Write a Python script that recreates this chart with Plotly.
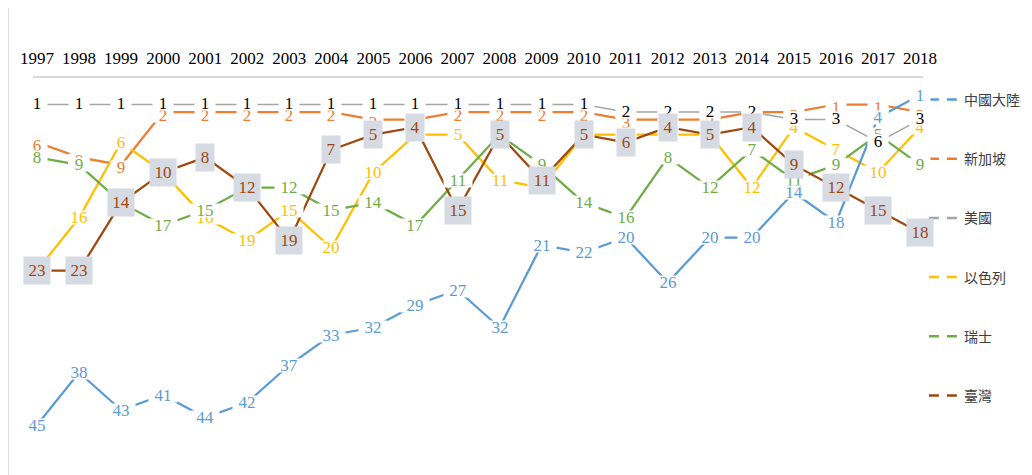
import plotly.graph_objects as go

years = [1997, 1998, 1999, 2000, 2001, 2002, 2003, 2004, 2005, 2006, 2007,
         2008, 2009, 2010, 2011, 2012, 2013, 2014, 2015, 2016, 2017, 2018]

china = [45, 38, 43, 41, 44, 42, 37, 33, 32, 29, 27, 32, 21, 22, 20, 26, 20, 20, 14, 18, 4, 1]
singapore = [6, 8, 9, 2, 2, 2, 2, 2, 3, 3, 2, 2, 2, 2, 3, 3, 3, 2, 2, 1, 1, 2]
usa = [1, 1, 1, 1, 1, 1, 1, 1, 1, 1, 1, 1, 1, 1, 2, 2, 2, 2, 3, 3, 6, 3]
israel = [23, 16, 6, 10, 16, 19, 15, 20, 10, 5, 5, 11, 12, 5, 5, 5, 5, 12, 4, 7, 10, 4]
swiss = [8, 9, 14, 17, 15, 12, 12, 15, 14, 17, 11, 5, 9, 14, 16, 8, 12, 7, 11, 9, 5, 9]
taiwan = [23, 23, 14, 10, 8, 12, 19, 7, 5, 4, 15, 5, 11, 5, 6, 4, 5, 4, 9, 12, 15, 18]

names = ["中國大陸", "新加坡", "美國", "以色列", "瑞士", "臺灣"]

SERIF = "Liberation Serif, Times New Roman, serif"
CJK = "Noto Sans CJK TC, sans-serif"

# name, values, line colour, label colour, y axis, label shift
series = [
    (names[1], singapore, "#ED7D31", "#ED7D31", "y", -3),
    (names[3], israel, "#FFC000", "#FFC000", "y", 0),
    (names[4], swiss, "#70AD47", "#70AD47", "y", 0),
    (names[2], usa, "#A5A5A5", "#000000", "y", 1),
    (names[0], china, "#5B9BD5", "#5B9BD5", "y2", 0),
    (names[5], taiwan, "#9E480E", "#9E480E", "y", 0),
]

fig = go.Figure()
annotations = []
for name, vals, color, lcolor, yax, shift in series:
    width = 1.5 if name == names[2] else 2.25
    fig.add_trace(go.Scatter(x=years, y=vals, mode="lines", yaxis=yax,
                             line=dict(color=color, width=width),
                             showlegend=False, hoverinfo="skip"))
    for yr, v in zip(years, vals):
        txt = str(v)
        if name == names[5]:
            annotations.append(dict(x=yr, y=v, xref="x", yref=yax, text=txt, showarrow=False,
                                    font=dict(family=SERIF, size=17, color=lcolor),
                                    bgcolor="#D6DAE2", borderpad=0,
                                    width=8 * len(txt) + 10, height=27))
        else:
            annotations.append(dict(x=yr, y=v, xref="x", yref=yax, text=txt, showarrow=False,
                                    yshift=shift,
                                    font=dict(family=SERIF, size=17, color=lcolor),
                                    bgcolor="white", borderpad=0,
                                    width=8 * len(txt) + 12, height=13))

# legend entries with dashed samples
legend_colors = {"中國大陸": "#5B9BD5", "新加坡": "#ED7D31", "美國": "#A5A5A5",
                 "以色列": "#FFC000", "瑞士": "#70AD47", "臺灣": "#9E480E"}
for n in names:
    fig.add_trace(go.Scatter(x=[None], y=[None], mode="lines", name=n, legendgroup=n,
                             line=dict(color=legend_colors[n], width=2.5, dash="10px,8px")))

# the page body has an 8px margin, so the figure is 8px smaller than the window
fig.update_layout(
    width=1024, height=467,
    margin=dict(l=25, r=109, t=70, b=5, autoexpand=False),
    paper_bgcolor="white", plot_bgcolor="white",
    annotations=annotations,
    xaxis=dict(side="top", range=[1996.905, 2018.07], tickvals=years,
               ticktext=[str(y) for y in years], showline=True, linecolor="#D9D9D9",
               linewidth=1.5, showgrid=False, zeroline=False, ticks="",
               ticklabelstandoff=5, automargin=False,
               tickfont=dict(family=SERIF, size=17, color="black")),
    yaxis=dict(range=[49.41, -2.51], visible=False, showgrid=False, zeroline=False,
               automargin=False),
    yaxis2=dict(range=[51, -1.27], visible=False, overlaying="y", showgrid=False,
                zeroline=False, automargin=False),
    legend=dict(x=1.001, xanchor="left", y=0.985, yanchor="top", traceorder="grouped",
                tracegroupgap=38, itemwidth=30,
                font=dict(family=CJK, size=14, color="#404040")),
    shapes=[dict(type="line", xref="paper", yref="paper", x0=-0.028, x1=-0.028,
                 y0=-0.02, y1=1.2, line=dict(color="#D9D9D9", width=1.5))],
)

fig.write_html("out.html")
